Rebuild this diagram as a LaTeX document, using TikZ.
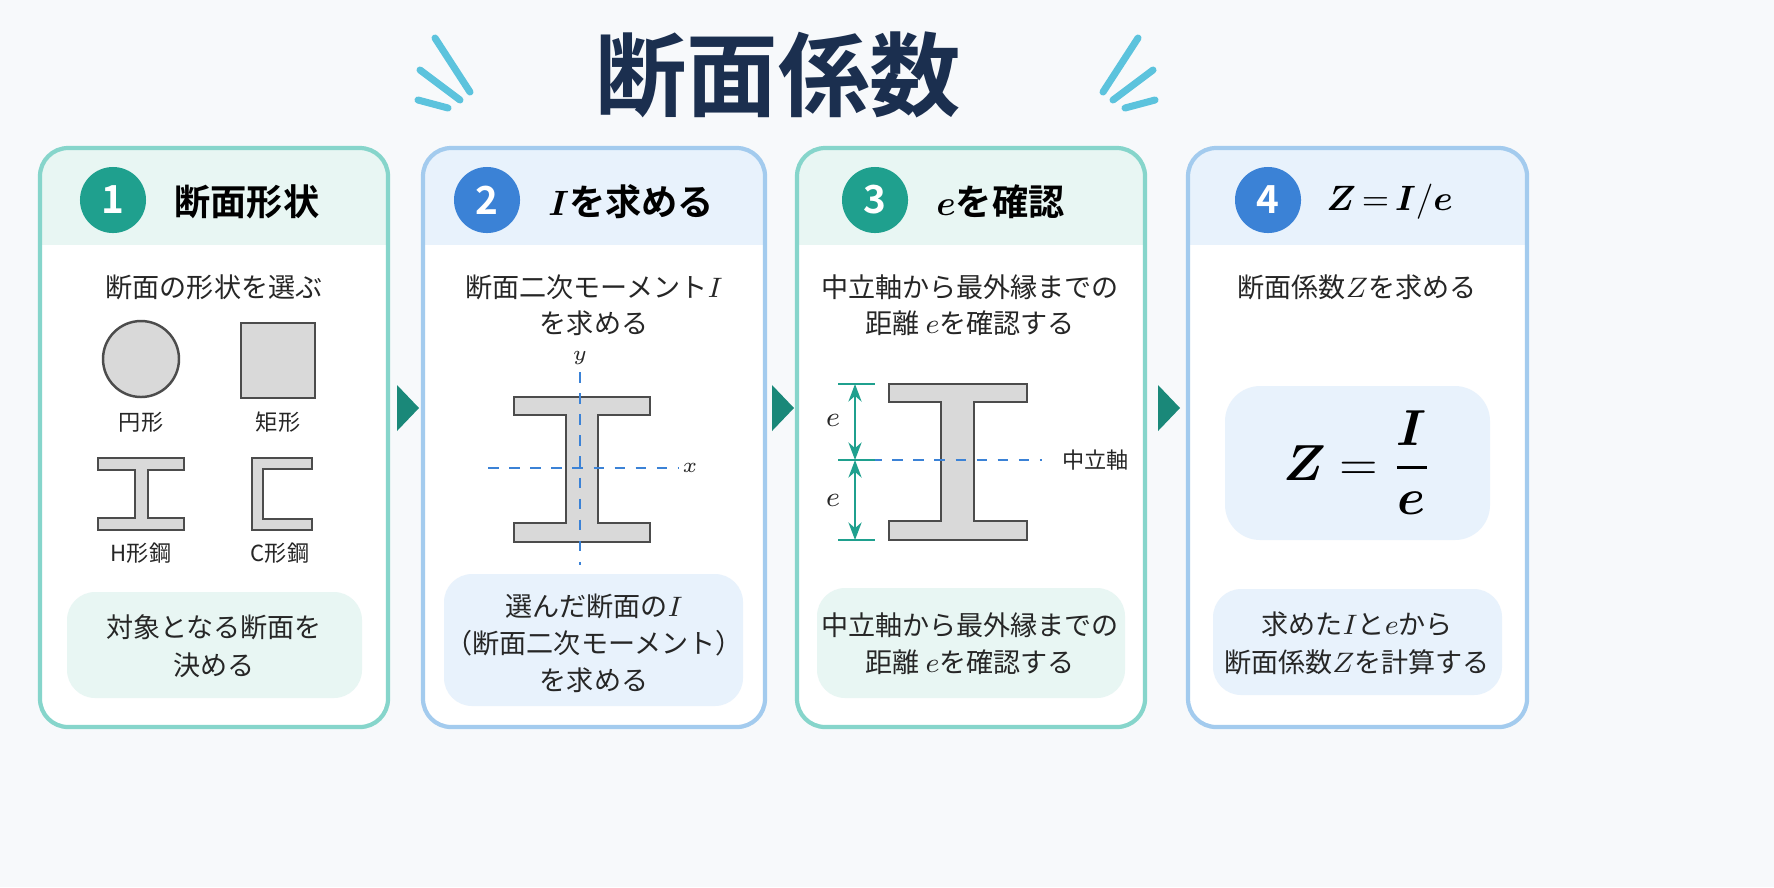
\documentclass[tikz,border=0pt]{standalone}
\usepackage{amsmath}
\usepackage{bm}
\usepackage{fontspec}
\setmainfont{Noto Sans CJK JP}
\newfontfamily\jpb{Noto Sans CJK JP Bold}
\usetikzlibrary{arrows.meta}
\definecolor{bgc}{HTML}{F7F9FB}
\definecolor{navy}{HTML}{1B2F4F}
\definecolor{tealc}{HTML}{1FA08E}
\definecolor{bluec}{HTML}{3B82D6}
\definecolor{mint}{HTML}{E8F6F3}
\definecolor{sky}{HTML}{E8F2FC}
\definecolor{tealb}{HTML}{86D5CB}
\definecolor{blueb}{HTML}{A3CBEE}
\definecolor{steelc}{HTML}{D9D9D9}
\definecolor{spark}{HTML}{5CC3DD}
\begin{document}
\begin{tikzpicture}[x=0.01cm,y=-0.01cm,
  panel/.style={draw=#1,line width=1.2pt,fill=white,rounded corners=8pt},
  num/.style={circle,fill=#1,text=white,minimum size=0.66cm,inner sep=0pt,font=\jpb\fontsize{11}{11}\selectfont},
  head/.style={font=\jpb\fontsize{10.3}{12}\selectfont,text=black},
  txt/.style={font=\fontsize{7.7}{9}\selectfont,text=black!85},
  small/.style={font=\fontsize{6.3}{8}\selectfont,text=black!85},
  beam/.style={fill=steelc,draw=black!70,line width=0.7pt},
  axis/.style={draw=bluec,dashed,line width=0.6pt},
  dim/.style={draw=tealc,line width=0.6pt},
  stepmark/.style={fill=tealc!85!black}]
\useasboundingbox[fill=bgc] (0,0) rectangle (1774,887);

% Titel
\node[font=\jpb\fontsize{26}{26}\selectfont,text=navy] (title) at (778,75) {断面係数};
\foreach \a/\b/\c/\d in {435/38/470/92, 420/70/460/100, 418/100/448/108}
  \draw[spark,line width=2pt,line cap=round] (\a,\b) -- (\c,\d);
\foreach \a/\b/\c/\d in {1138/38/1103/92, 1153/70/1113/100, 1155/100/1125/108}
  \draw[spark,line width=2pt,line cap=round] (\a,\b) -- (\c,\d);

% Paneele
\foreach \l/\r/\c/\h in {40/388/tealb/mint, 423/765/blueb/sky, 797/1145/tealb/mint, 1188/1527/blueb/sky}{
  \fill[white,rounded corners=8pt] (\l,148) rectangle (\r,727);
  \begin{scope}
    \clip[rounded corners=8pt] (\l,148) rectangle (\r,727);
    \fill[\h] (\l,148) rectangle (\r,245);
  \end{scope}
  \draw[panel=\c,fill=none] (\l,148) rectangle (\r,727);
}
\node[num=tealc] (n1) at (113,200) {1};
\node[head,anchor=west] (h1) at (162,202) {断面形状};
\node[num=bluec] (n2) at (487,200) {2};
\node[head,anchor=west] (h2) at (536,202) {$\bm{I}$を求める};
\node[num=tealc] (n3) at (875,200) {3};
\node[head,anchor=west] (h3) at (924,202) {$\bm{e}$を確認};
\node[num=bluec] (n4) at (1268,200) {4};
\node[head,anchor=west] (h4) at (1314,202) {$\bm{Z}\,{=}\,\bm{I}/\bm{e}$};

% Pfeile zwischen Paneelen
\fill[stepmark] (397,385) -- (419,408) -- (397,431) -- cycle;
\fill[stepmark] (772,385) -- (794,408) -- (772,431) -- cycle;
\fill[stepmark] (1158,385) -- (1180,408) -- (1158,431) -- cycle;

% Panel 1
\node[txt] (t1) at (214,287) {断面の形状を選ぶ};
\draw[beam] (141,359) circle (38);
\draw[beam] (241,323) rectangle (315,398);
\node[small] (l1) at (141,422) {円形};
\node[small] (l2) at (278,422) {矩形};
\draw[beam] (98,458) -- (184,458) -- (184,470) -- (148,470) -- (148,518) -- (184,518)
  -- (184,530) -- (98,530) -- (98,518) -- (135,518) -- (135,470) -- (98,470) -- cycle;
\draw[beam] (312,458) -- (252,458) -- (252,530) -- (312,530) -- (312,519) -- (263,519)
  -- (263,469) -- (312,469) -- cycle;
\node[small] (l3) at (141,553) {H形鋼};
\node[small] (l4) at (280,553) {C形鋼};
\fill[mint,rounded corners=8pt] (67,592) rectangle (362,698);
\node[txt] (b1a) at (214,627) {対象となる断面を};
\node[txt] (b1b) at (214,665) {決める};

% Panel 2
\node[txt] (t2a) at (594,287) {断面二次モーメント$I$};
\node[txt] (t2b) at (594,323) {を求める};
\draw[beam] (514,397) -- (650,397) -- (650,415) -- (598,415) -- (598,523) -- (650,523)
  -- (650,542) -- (514,542) -- (514,523) -- (566,523) -- (566,415) -- (514,415) -- cycle;
\draw[axis] (580,372) -- (580,565);
\draw[axis] (488,468) -- (678,468);
\node[small] (ay) at (580,358) {$y$};
\node[small] (ax) at (690,468) {$x$};
\fill[sky,rounded corners=8pt] (444,574) rectangle (743,706);
\node[txt] (b2a) at (594,606) {選んだ断面の$I$};
\node[txt] (b2b) at (594,643) {（断面二次モーメント）};
\node[txt] (b2c) at (594,680) {を求める};

% Panel 3
\node[txt] (t3a) at (970,287) {中立軸から最外縁までの};
\node[txt] (t3b) at (970,323) {距離 $e$を確認する};
\draw[beam] (889,384) -- (1027,384) -- (1027,402) -- (974,402) -- (974,521) -- (1027,521)
  -- (1027,540) -- (889,540) -- (889,521) -- (941,521) -- (941,402) -- (889,402) -- cycle;
\draw[axis] (850,460) -- (1042,460);
\node[small,anchor=west] (na) at (1050,460) {中立軸};
\coordinate (d1) at (855,384);
\coordinate (d2) at (855,460);
\coordinate (d3) at (855,540);
\foreach \p in {d1,d2,d3}
  \draw[dim] ([xshift=-0.17cm]\p) -- ([xshift=0.2cm]\p);
\draw[dim,{Stealth[length=5pt]}-{Stealth[length=5pt]}] (d1) -- (d2);
\draw[dim,{Stealth[length=5pt]}-{Stealth[length=5pt]}] (d2) -- (d3);
\node[txt] (e1) at (833,420) {$e$};
\node[txt] (e2) at (833,500) {$e$};
\fill[mint,rounded corners=8pt] (817,588) rectangle (1125,698);
\node[txt] (b3a) at (970,625) {中立軸から最外縁までの};
\node[txt] (b3b) at (970,662) {距離 $e$を確認する};

% Panel 4
\node[txt] (t4) at (1357,287) {断面係数$Z$を求める};
\fill[sky,rounded corners=10pt] (1225,386) rectangle (1490,540);
\node[font=\fontsize{15}{15}\selectfont] (fz) at (1357,463)
  {$\bm{Z}\;\mathbf{=}\;\dfrac{\bm{I}}{\bm{e}}$};
\fill[sky,rounded corners=8pt] (1213,589) rectangle (1502,695);
\node[txt] (b4a) at (1357,624) {求めた$I$と$e$から};
\node[txt] (b4b) at (1357,662) {断面係数$Z$を計算する};
\end{tikzpicture}
\end{document}
